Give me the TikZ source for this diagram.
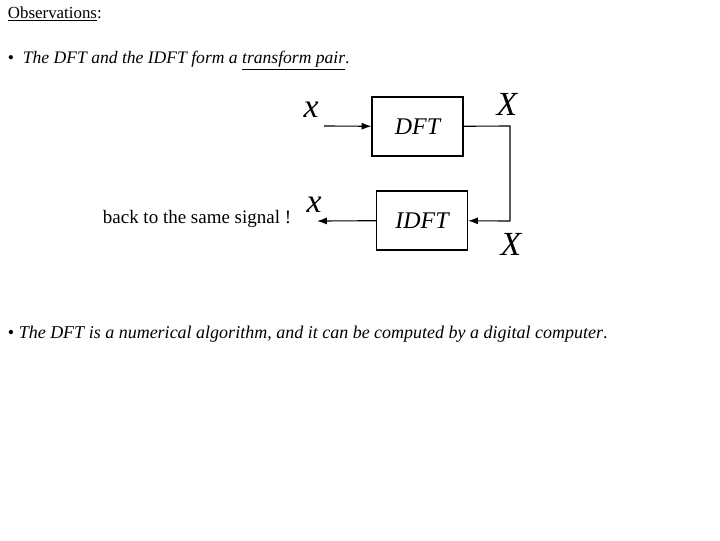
\documentclass[tikz,border=0pt]{standalone}
\usepackage{fontspec}
\setmainfont{Liberation Serif}
\usepackage{tikz}
\usetikzlibrary{arrows.meta,calc}
\tikzset{
    blockbox/.style={draw, thick, minimum width=91*0.025cm, minimum height=59*0.025cm, font=\fontsize{17}{20}\selectfont\itshape},
    sig/.style={font=\fontsize{24}{26}\selectfont\itshape},
    flow/.style={thick, -{Latex[length=7pt,width=5pt]}}
}
\begin{document}
\begin{tikzpicture}[x=0.025cm, y=-0.025cm]
    %% Page
    \useasboundingbox (0,0) rectangle (720,540);
    %% Text
    \node[anchor=west, font=\fontsize{12}{14}\selectfont] (title) at (3,14) {\underline{Observations}:};
    \node[anchor=west, font=\fontsize{12.5}{14}\selectfont] (pair) at (3,61) {\textbullet\ \ \textit{The DFT and the IDFT form a \underline{transform pair}}.};
    \node[anchor=west, font=\fontsize{12.8}{14}\selectfont] (comp) at (3,334) {\textbullet\ \textit{The DFT is a numerical algorithm, and it can be computed by a digital computer}.};
    \node[font=\fontsize{13.5}{14}\selectfont] (back) at (197,219) {back to the same signal !};
    %% Blocks
    \node[blockbox] (dft) at (417.5,126.5) {DFT};
    \node[blockbox] (idft) at (422,220.5) {IDFT};
    \coordinate (xin) at (324,126);
    \coordinate (xout) at (317,221);
    \coordinate (turn) at (510,126);
    \coordinate (turnb) at (510,221);
    %% Signals
    \node[sig] (lx) at (311,110) {x};
    \node[sig] (lX) at (507,104) {X};
    \node[sig] (lxb) at (314,205) {x};
    \node[sig] (lXb) at (511,244) {X};
    %% Connectors
    \draw[flow] (xin) -- (dft);
    \draw[thick] (dft) -- (turn) -- (turnb);
    \draw[flow] (turnb) -- (idft);
    \draw[flow] (idft) -- (xout);
\end{tikzpicture}
\end{document}
